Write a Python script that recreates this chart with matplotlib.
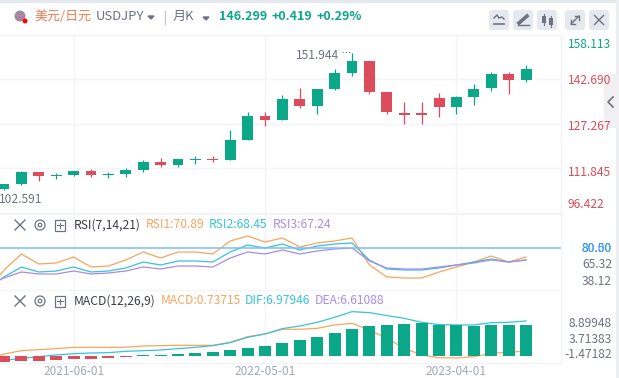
"""USDJPY monthly candles with RSI and MACD panes."""

import matplotlib
matplotlib.use("Agg")
import matplotlib.pyplot as plt
from matplotlib.patches import Circle, FancyBboxPatch, Rectangle

plt.rcParams["font.family"] = ["Noto Sans CJK SC", "DejaVu Sans"]

# candles, one per month, 2021-02 to 2023-08
opens = [104.73, 106.47, 110.62, 109.24, 109.58, 110.97, 109.58, 109.93, 111.32, 114.09, 113.05,
         114.78, 115.13, 114.78, 121.72, 130.04, 128.65, 135.93, 133.50, 139.40, 144.94, 149.10,
         138.35, 131.08, 131.08, 136.27, 133.16, 136.62, 139.74, 144.59, 142.51]
closes = [106.47, 110.62, 109.24, 109.58, 110.97, 109.58, 109.93, 111.32, 114.09, 113.05, 115.13,
          115.13, 114.78, 121.72, 130.04, 128.65, 135.93, 133.50, 139.40, 144.94, 149.10, 138.35,
          131.42, 130.38, 130.38, 133.16, 136.62, 139.40, 144.59, 142.51, 146.299]
highs = [106.47, 110.97, 110.62, 110.28, 110.97, 111.66, 110.62, 112.01, 114.78, 115.48, 115.13,
         116.17, 116.17, 125.18, 131.42, 131.42, 137.31, 139.74, 139.40, 146.33, 151.944, 149.10,
         138.35, 134.89, 134.89, 138.01, 136.97, 141.13, 145.29, 145.29, 147.71]
lows = [104.39, 106.12, 107.50, 108.20, 109.24, 108.89, 108.55, 108.89, 110.62, 112.36, 112.36,
        113.40, 114.09, 114.78, 121.72, 126.57, 128.65, 132.81, 130.73, 139.05, 143.90, 137.66,
        130.73, 127.27, 127.27, 129.69, 130.73, 133.85, 138.70, 137.66, 141.82]

# indicator lines start one month earlier, that point is cut off by the left edge
rsi1 = [25.0, 52.5, 72.5, 60.0, 61.25, 68.75, 56.25, 57.5, 65.0, 75.0, 67.5, 75.0, 75.0, 72.5, 88.75,
        95.0, 87.5, 92.5, 81.25, 86.25, 88.75, 92.5, 58.75, 43.75, 42.5, 42.5, 50.0, 56.25, 62.5,
        70.0, 62.5, 68.75]
rsi2 = [27.5, 43.75, 56.25, 50.0, 51.25, 56.25, 50.0, 51.25, 55.0, 62.5, 58.75, 63.75, 63.75, 62.5, 75.0,
        83.75, 80.0, 85.0, 77.5, 82.5, 85.0, 86.25, 65.0, 53.75, 52.5, 52.5, 55.0, 58.75, 62.5,
        66.25, 62.5, 65.0]
rsi3 = [33.75, 42.5, 50.0, 47.5, 47.5, 51.25, 47.5, 48.75, 51.25, 56.25, 53.75, 57.5, 57.5, 56.25, 67.5,
        75.0, 72.5, 77.5, 72.5, 76.25, 78.75, 80.0, 63.75, 55.0, 53.75, 53.75, 56.25, 58.75, 61.25,
        65.0, 62.5, 65.0]
rsi_level = 80

macd_hist = [-1.72, -1.44, -1.44, -1.15, -0.86, -0.77, -0.57, -0.29, 0.29, 0.29, 0.57, 0.86, 1.15,
             1.72, 2.30, 2.87, 3.73, 4.59, 5.45, 6.60, 7.75, 8.61, 8.90, 9.18, 9.38, 8.90, 8.90,
             8.70, 8.90, 8.90, 8.90]
macd_dif = [-2.58, -1.24, -0.67, -0.19, 0.29, 0.67, 0.86, 0.96, 1.34, 1.53, 1.72, 2.11, 2.49, 2.97, 3.83,
            5.36, 6.32, 7.85, 8.61, 9.67, 11.10, 12.73, 12.44, 11.58, 10.81, 9.67, 9.00, 8.90,
            8.90, 9.57, 9.67, 10.05]
macd_dea = [-1.15, 0.57, 1.53, 1.82, 2.11, 2.49, 2.49, 2.49, 2.49, 2.87, 2.97, 3.06, 3.06, 3.06, 3.92,
            5.55, 6.32, 7.66, 7.66, 7.94, 8.90, 9.38, 7.46, 5.07, 2.20, 0.29, -0.48, -0.57, -0.19,
            0.77, 1.05, 1.44]

price_ticks = [158.113, 142.690, 127.267, 111.845, 96.422]
date_ticks = [4, 15, 26]
date_labels = ["2021-06-01", "2022-05-01", "2023-04-01"]

GREEN = "#0aa889"
RED = "#dc4c5a"
ORANGE = "#f9a55c"
CYAN = "#38c2dc"
PURPLE = "#a98ce8"
GRID = "#f3f4f8"
GRAY = "#6e7280"

W, H = 619, 378
fig = plt.figure(figsize=(W / 100, H / 100), dpi=100)


def pane(top, bottom, ylim):
    """Axes placed by pixel rows, sharing the candle index on x."""
    ax = fig.add_axes([0, 1 - bottom / H, 561 / W, (bottom - top) / H])
    ax.set_xlim(-0.23, 32.01)
    ax.set_ylim(*ylim)
    ax.set_xticks(date_ticks)
    ax.set_yticks([])
    ax.tick_params(length=0, labelbottom=False, labelleft=False)
    ax.grid(axis="x", color=GRID, lw=1)
    ax.set_axisbelow(True)
    for name, spine in ax.spines.items():
        spine.set_visible(name == "bottom")
        spine.set_color(GRID)
    ax.patch.set_alpha(0)
    return ax


ax_price = pane(35, 214, (96.07, 158.113))
ax_rsi = pane(214, 290, (27.5, 122.5))
ax_macd = pane(290, 363, (-2.01, 18.94))

# candles
ax_price.set_yticks(price_ticks)
ax_price.grid(axis="y", color=GRID, lw=1)
for i in range(len(opens)):
    color = GREEN if closes[i] >= opens[i] else RED
    ax_price.vlines(i, lows[i], highs[i], color=color, lw=0.9, zorder=2)
    ax_price.bar(i, abs(closes[i] - opens[i]), bottom=min(opens[i], closes[i]), width=0.63,
                 color=color, zorder=3)

# rsi
xs = list(range(-1, len(opens)))
ax_rsi.plot(xs, rsi1, color=ORANGE, lw=0.9)
ax_rsi.plot(xs, rsi2, color=CYAN, lw=0.9)
ax_rsi.plot(xs, rsi3, color=PURPLE, lw=0.9)
ax_rsi.axhline(rsi_level, color="#7dbcf5", lw=1.1)

# macd, bars sit on top of the lines
ax_macd.plot(xs, macd_dea, color=ORANGE, lw=0.9, zorder=2)
ax_macd.plot(xs, macd_dif, color=CYAN, lw=0.9, zorder=2)
ax_macd.bar(range(len(macd_hist)), macd_hist, width=0.69, zorder=3,
            color=[GREEN if v >= 0 else RED for v in macd_hist])

# everything else is placed in pixels on a full figure overlay
ov = fig.add_axes([0, 0, 1, 1])
ov.set_xlim(0, W)
ov.set_ylim(H, 0)
ov.axis("off")
ov.patch.set_alpha(0)


def label(x, y, s, color=GRAY, size=8.7, ha="left", weight="normal"):
    ov.text(x, y, s, color=color, fontsize=size, ha=ha, va="center", fontweight=weight)


def button(x, y, w=20, h=20, fc="#e6e8ef"):
    ov.add_patch(FancyBboxPatch((x + 3, y + 3), w - 6, h - 6, boxstyle="round,pad=3",
                                fc=fc, ec="none"))


def cross(x, y, r=4.5, color="#6e7280", lw=1.0):
    ov.plot([x - r, x + r], [y - r, y + r], color=color, lw=lw)
    ov.plot([x - r, x + r], [y + r, y - r], color=color, lw=lw)


# page frame
ov.add_patch(Rectangle((0, 0), W, 3, fc="#e4e8ef", ec="none"))
ov.add_patch(Rectangle((616, 0), 3, H, fc="#eceef2", ec="none"))
ov.plot([0, 561], [34.5, 34.5], color=GRID, lw=1)
ov.plot([561, 561], [35, 363], color=GRID, lw=1)
ov.add_patch(FancyBboxPatch((606, 76), 13, 50, boxstyle="round,pad=2", fc="#f0f0f3", ec="none"))
ov.plot([613, 608, 613], [97, 102, 107], color=GRAY, lw=1.2)

# header
ov.add_patch(Circle((20, 16), 5.5, fc="#8f8fb0", ec="none"))
ov.add_patch(Rectangle((15, 15), 10, 1.2, fc="#e8727a", ec="none"))
ov.add_patch(Rectangle((15, 18), 10, 1.2, fc="#e8727a", ec="none"))
ov.add_patch(Circle((25, 21), 2.5, fc="#f00a0a", ec="none"))
label(34, 16.5, "美元/日元", color="#f97b4f", size=9.4)
label(96, 16.5, "USDJPY", size=9.4)
ov.fill([148, 154, 151], [16, 16, 19], color=GRAY)
ov.plot([164.5, 164.5], [11, 24], color="#c9ccd4", lw=1)
label(173, 16.5, "月K", size=9.4)
ov.fill([203, 209, 206], [17, 17, 20], color=GRAY)
label(219.5, 16.5, "146.299", color=GREEN, size=9.0, weight="bold")
label(272, 16.5, "+0.419", color=GREEN, size=9.0, weight="bold")
label(316.5, 16.5, "+0.29%", color=GREEN, size=9.0, weight="bold")

# toolbar
for bx in [489, 513, 537, 565, 589]:
    button(bx, 10)
ov.plot([494, 497, 499, 502, 504], [18, 15, 18, 17, 19], color=GRAY, lw=1)
ov.plot([494, 504], [24, 24], color=GRAY, lw=1.2)
ov.plot([519, 527], [23, 16], color=GRAY, lw=2.6)
ov.plot([518, 529], [25, 25], color=GRAY, lw=1)
ov.add_patch(Rectangle((542, 16), 4, 7, fc=GRAY, ec="none"))
ov.add_patch(Rectangle((549, 18), 4, 7, fc=GRAY, ec="none"))
ov.plot([544, 544], [14, 25], color=GRAY, lw=0.8)
ov.plot([551, 551], [16, 27], color=GRAY, lw=0.8)
ov.plot([571, 579], [24, 16], color=GRAY, lw=1)
ov.plot([575, 579, 579], [16, 16, 20], color=GRAY, lw=1)
ov.plot([571, 571, 575], [20, 24, 24], color=GRAY, lw=1)
cross(599, 20, r=4.5, lw=1)

# price axis, labels do not sit exactly on their grid lines
price_rows = [44, 81, 126.5, 172, 205]
price_colors = [GREEN, RED, RED, RED, RED]
for t, row, c in zip(price_ticks, price_rows, price_colors):
    label(568, row, f"{t:.3f}", color=c)
label(296, 55.5, "151.944")
ov.plot([342, 352], [51.5, 51.5], color=GRAY, lw=0.8, ls=(0, (1, 2)))
label(-1, 199.5, "102.591")

# rsi header
cross(20, 225, r=5)
ov.add_patch(Circle((40, 225), 5, fc="none", ec=GRAY, lw=0.9))
ov.add_patch(Circle((40, 225), 1.8, fc="none", ec=GRAY, lw=0.9))
ov.add_patch(Rectangle((54.5, 220), 10.5, 10.5, fc="none", ec=GRAY, lw=0.9))
ov.plot([57, 62.5], [225.2, 225.2], color=GRAY, lw=0.8)
ov.plot([59.8, 59.8], [222.5, 228], color=GRAY, lw=0.8)
label(74, 225, "RSI(7,14,21)", color="#3a3d46")
label(146, 225, "RSI1:70.89", color=ORANGE)
label(209, 225, "RSI2:68.45", color=CYAN)
label(273, 225, "RSI3:67.24", color=PURPLE)
label(612, 248, "80.00", color="#3d9bf0", ha="right")
label(612, 248, "80.50", color="#3d9bf0", ha="right")
label(612, 264.5, "65.32", ha="right")
label(612, 281.5, "38.12", ha="right")

# macd header
cross(20, 301, r=5)
ov.add_patch(Circle((40, 301), 5, fc="none", ec=GRAY, lw=0.9))
ov.add_patch(Circle((40, 301), 1.8, fc="none", ec=GRAY, lw=0.9))
ov.add_patch(Rectangle((54.5, 296), 10.5, 10.5, fc="none", ec=GRAY, lw=0.9))
ov.plot([57, 62.5], [301.2, 301.2], color=GRAY, lw=0.8)
ov.plot([59.8, 59.8], [298.5, 304], color=GRAY, lw=0.8)
label(74, 301, "MACD(12,26,9)", color="#3a3d46")
label(161, 301, "MACD:0.73715", color=ORANGE)
label(245, 301, "DIF:6.97946", color=CYAN)
label(315, 301, "DEA:6.61088", color=PURPLE)
label(612, 323.5, "8.89948", ha="right")
label(612, 339.5, "3.71383", ha="right")
label(612, 354, "-1.47182", ha="right")

# date axis, centred on the row so the tall CJK line box does not hit the edge
ax_macd.set_xticklabels(date_labels, va="center")
ax_macd.tick_params(labelbottom=True, labelsize=8.5, labelcolor="#a3a7b7", pad=6.2)

fig.savefig("out.png", dpi=100)
